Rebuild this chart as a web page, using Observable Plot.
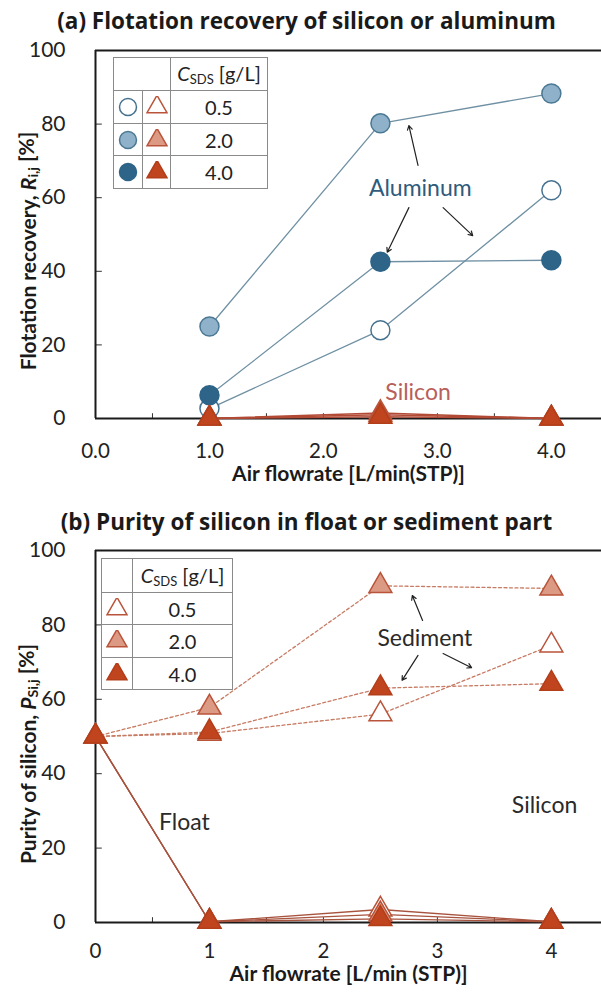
<!DOCTYPE html>
<html>
<head>
<meta charset="utf-8">
<script src="https://cdn.jsdelivr.net/npm/d3@7"></script>
<script src="https://cdn.jsdelivr.net/npm/@observablehq/plot@0.6"></script>
<style>
  body { margin: 0; background: #fff; font-family: Lato, "Open Sans", sans-serif; color: #222; }
  #root { position: relative; width: 601px; height: 993px; overflow: hidden; background: #fff; }
  .ptitle { position: absolute; left: 6px; width: 601px; text-align: center; font-family: "Open Sans", Lato, sans-serif; font-weight: bold; font-size: 22.5px; line-height: 28px; color: #1a1a1a; white-space: nowrap; }
  .chart { position: absolute; left: 0; }
  table.legend { position: absolute; border-collapse: collapse; background: #fff; font-size: 20px; color: #222; table-layout: fixed; }
  table.legend td { border: 1.5px solid #8a8a8a; padding: 0; text-align: center; vertical-align: middle; }
  table.legend svg { display: block; margin: auto; }
  table.legend sub { font-size: 13px; vertical-align: -3px; }
</style>
</head>
<body>
<div id="root">
  <div class="ptitle" style="top:7px">(a) Flotation recovery of silicon or aluminum</div>
  <div class="ptitle" style="top:508px">(b) Purity of silicon in float or sediment part</div>
</div>
<script>
// ---------- data ----------
const csdsLevels = ["0.5", "2.0", "4.0"];

// (a) flotation recovery [%] vs air flowrate
const flowA = [1.0, 2.5, 4.0];
const alRec05 = [2.7, 24.0, 62.0];
const alRec20 = [25.0, 80.2, 88.3];
const alRec40 = [6.3, 42.6, 43.0];
const siRec05 = [0.0, 1.5, 0.0];
const siRec20 = [0.0, 1.0, 0.0];
const siRec40 = [0.0, 0.5, 0.0];

// (b) purity of silicon [%] vs air flowrate
const flowB = [0, 1, 2.5, 4];
const sedPur05 = [50, 50.8, 56.0, 74.5];
const sedPur20 = [50, 57.8, 90.5, 89.8];
const sedPur40 = [50, 51.2, 63.0, 64.2];
const floPur05 = [50, 0.2, 3.5, 0.2];
const floPur20 = [50, 0.2, 2.2, 0.2];
const floPur40 = [50, 0.2, 1.0, 0.2];

// ticks
const xTicks = [0, 1, 2, 3, 4];
const xMinorTicks = [0.5, 1, 1.5, 2, 2.5, 3, 3.5, 4];
const yTicks = [0, 20, 40, 60, 80, 100];
const yInnerTicks = [20, 40, 60, 80];

// annotations (data coordinates)
const notesA = [
  {x: 2.85, y: 62.5, text: "Aluminum", color: "#2f5b7c"},
  {x: 2.83, y: 7.0, text: "Silicon", color: "#b8605a"}
];
const arrowsA = [
  {x1: 2.83, y1: 68.8, x2: 2.75, y2: 79.6},
  {x1: 2.75, y1: 57.3, x2: 2.56, y2: 45.2},
  {x1: 3.05, y1: 57.3, x2: 3.31, y2: 49.7}
];
const notesB = [
  {x: 2.89, y: 76.3, text: "Sediment"},
  {x: 0.78, y: 26.9, text: "Float"},
  {x: 3.94, y: 31.5, text: "Silicon"}
];
const arrowsB = [
  {x1: 2.87, y1: 81.2, x2: 2.78, y2: 87.9},
  {x1: 2.83, y1: 71.8, x2: 2.69, y2: 65.1},
  {x1: 3.05, y1: 72.3, x2: 3.30, y2: 68.5}
];

// ---------- styles ----------
const circleStyle = {
  "0.5": {fill: "#ffffff", stroke: "#46728f"},
  "2.0": {fill: "#8fb2ca", stroke: "#4b7894"},
  "4.0": {fill: "#2d6488", stroke: "#2d6488"}
};
const triStyle = {
  "0.5": {fill: "#ffffff", stroke: "#b9543a"},
  "2.0": {fill: "#dc9a84", stroke: "#b9543a"},
  "4.0": {fill: "#c0441d", stroke: "#b33e1a"}
};

// ---------- tables ----------
const alArr = [alRec05, alRec20, alRec40];
const siArr = [siRec05, siRec20, siRec40];
const tableA = csdsLevels.flatMap((c, i) => flowA.map((x, j) => ({c, x, al: alArr[i][j], si: siArr[i][j]})));
const sedArr = [sedPur05, sedPur20, sedPur40];
const floArr = [floPur05, floPur20, floPur40];
const tableB = csdsLevels.flatMap((c, i) => flowB.map((x, j) => ({c, x, sed: sedArr[i][j], flo: floArr[i][j]})));

const W = 601;
const xDomain = [0, 4.44];
const baseStyle = {fontFamily: "Lato, 'Open Sans', sans-serif", fontSize: "21px", color: "#222", background: "transparent", overflow: "visible"};

function frameMarks(fmt, pad) {
  return [
    Plot.ruleY([100], {stroke: "#1a1a1a", strokeWidth: 2}),
    Plot.ruleX(xMinorTicks, {x: d => d, y1: 0, y2: 1.3, stroke: "#333", strokeWidth: 1}),
    Plot.ruleY(yInnerTicks, {y: d => d, x1: 0, x2: 0.06, stroke: "#333", strokeWidth: 1}),
    Plot.axisX(xTicks, {tickSize: 0, tickPadding: pad, tickFormat: fmt, label: null, fontSize: 20.5}),
    Plot.axisY(yTicks, {tickSize: 0, tickPadding: 30, label: null, fontSize: 21})
  ];
}

// ---------- chart (a) ----------
const chartA = Plot.plot({
  width: W, height: 456,
  marginTop: 10, marginBottom: 78, marginLeft: 95, marginRight: 0,
  x: {domain: xDomain},
  y: {domain: [0, 100]},
  style: baseStyle,
  marks: [
    ...frameMarks(d => d.toFixed(1), 25),
    Plot.line(tableA, {x: "x", y: "al", z: "c", stroke: "#6f90a3", strokeWidth: 1.3}),
    Plot.ruleX([0], {stroke: "#1a1a1a", strokeWidth: 2}),
    Plot.ruleY([0], {stroke: "#1a1a1a", strokeWidth: 2}),
    Plot.line(tableA, {x: "x", y: "si", z: "c", stroke: "#b24a35", strokeWidth: 1.5}),
    ...csdsLevels.map(c => Plot.dot(tableA.filter(d => d.c === c), {x: "x", y: "al", r: 9.5, fill: circleStyle[c].fill, stroke: circleStyle[c].stroke, strokeWidth: 1.5})),
    ...csdsLevels.map(c => Plot.dot(tableA.filter(d => d.c === c), {x: "x", y: "si", symbol: "triangle", r: 8.5, fill: triStyle[c].fill, stroke: triStyle[c].stroke, strokeWidth: 1.5})),
    Plot.arrow(arrowsA, {x1: "x1", y1: "y1", x2: "x2", y2: "y2", stroke: "#222", strokeWidth: 1.2, headLength: 6}),
    Plot.text(notesA, {x: "x", y: "y", text: "text", fill: d => d.color, fontSize: 23}),
    Plot.text(["Air flowrate [L/min(STP)]"], {frameAnchor: "bottom", dy: 62, fontWeight: "bold", fontSize: 21, fill: "#1a1a1a"})
  ],
  color: {type: "identity"}
});

// ---------- chart (b) ----------
const chartB = Plot.plot({
  width: W, height: 453,
  marginTop: 10, marginBottom: 71, marginLeft: 95, marginRight: 0,
  x: {domain: xDomain},
  y: {domain: [0, 100]},
  style: baseStyle,
  marks: [
    ...frameMarks(d => String(d), 21),
    Plot.line(tableB, {x: "x", y: "sed", z: "c", stroke: "#c77b63", strokeWidth: 1.3, strokeDasharray: "3,2.5"}),
    Plot.ruleX([0], {stroke: "#1a1a1a", strokeWidth: 2}),
    Plot.ruleY([0], {stroke: "#1a1a1a", strokeWidth: 2}),
    Plot.line(tableB, {x: "x", y: "flo", z: "c", stroke: "#a8533e", strokeWidth: 1.3}),
    ...csdsLevels.map(c => Plot.dot(tableB.filter(d => d.c === c), {x: "x", y: "sed", symbol: "triangle", r: 8.5, fill: triStyle[c].fill, stroke: triStyle[c].stroke, strokeWidth: 1.5})),
    ...csdsLevels.map(c => Plot.dot(tableB.filter(d => d.c === c && d.x > 0), {x: "x", y: "flo", symbol: "triangle", r: 8.5, fill: triStyle[c].fill, stroke: triStyle[c].stroke, strokeWidth: 1.5})),
    Plot.arrow(arrowsB, {x1: "x1", y1: "y1", x2: "x2", y2: "y2", stroke: "#222", strokeWidth: 1.2, headLength: 6}),
    Plot.text(notesB, {x: "x", y: "y", text: "text", fill: "#2a2a2a", fontSize: 23}),
    Plot.text(["Air flowrate [L/min (STP)]"], {frameAnchor: "bottom", dy: 58, fontWeight: "bold", fontSize: 21, fill: "#1a1a1a"})
  ]
});

// y-axis titles with italic symbol and subscript
function yTitle(svg, cy, parts) {
  const t = d3.select(svg).append("text")
    .attr("transform", `translate(27,${cy}) rotate(-90)`)
    .attr("text-anchor", "middle")
    .attr("dominant-baseline", "central")
    .attr("font-weight", "bold")
    .attr("font-size", 21)
    .attr("fill", "#1a1a1a");
  t.append("tspan").text(parts[0]);
  t.append("tspan").attr("font-style", "italic").text(parts[1]);
  t.append("tspan").attr("font-size", 14).attr("dy", "0.35em").text(parts[2]);
  t.append("tspan").attr("dy", "-0.35em").text(parts[3]);
}
yTitle(chartA, 211, ["Flotation recovery, ", "R", "i,j", " [%]"]);
yTitle(chartB, 214, ["Purity of silicon, ", "P", "Si,j", " [%]"]);

const root = document.getElementById("root");
chartA.classList.add("chart"); chartA.style.top = "40px";
chartB.classList.add("chart"); chartB.style.top = "540px";
root.appendChild(chartA);
root.appendChild(chartB);

// ---------- legends (HTML tables) ----------
function glyph(kind, c) {
  const s = kind === "circle" ? circleStyle[c] : triStyle[c];
  const ns = "http://www.w3.org/2000/svg";
  const svg = document.createElementNS(ns, "svg");
  svg.setAttribute("width", 22); svg.setAttribute("height", 22);
  svg.setAttribute("viewBox", "-11 -11 22 22");
  const p = document.createElementNS(ns, "path");
  p.setAttribute("d", d3.symbol(kind === "circle" ? d3.symbolCircle : d3.symbolTriangle, kind === "circle" ? Math.PI * 8.5 * 8.5 : Math.PI * 7.5 * 7.5)());
  p.setAttribute("fill", s.fill); p.setAttribute("stroke", s.stroke); p.setAttribute("stroke-width", 1.5);
  svg.appendChild(p);
  return svg;
}
const header = '<i>C</i><sub>SDS</sub> [g/L]';
function legend(left, top, kinds, colW, rowH) {
  const tbl = document.createElement("table");
  tbl.className = "legend";
  tbl.style.left = left + "px"; tbl.style.top = top + "px";
  const cg = document.createElement("colgroup");
  colW.forEach(w => { const col = document.createElement("col"); col.style.width = w + "px"; cg.appendChild(col); });
  tbl.appendChild(cg);
  const hr = tbl.insertRow();
  hr.style.height = rowH[0] + "px";
  const h0 = hr.insertCell(); h0.colSpan = kinds.length;
  const h1 = hr.insertCell(); h1.innerHTML = header;
  csdsLevels.forEach((c, i) => {
    const r = tbl.insertRow();
    r.style.height = rowH[i + 1] + "px";
    kinds.forEach(k => { const cell = r.insertCell(); cell.appendChild(glyph(k, c)); });
    const v = r.insertCell(); v.textContent = c;
  });
  root.appendChild(tbl);
}
legend(113, 57, ["circle", "triangle"], [29, 28, 97], [33, 33, 32, 33]);
legend(101, 558, ["triangle"], [31, 100], [34, 32, 33, 32]);
</script>
</body>
</html>
